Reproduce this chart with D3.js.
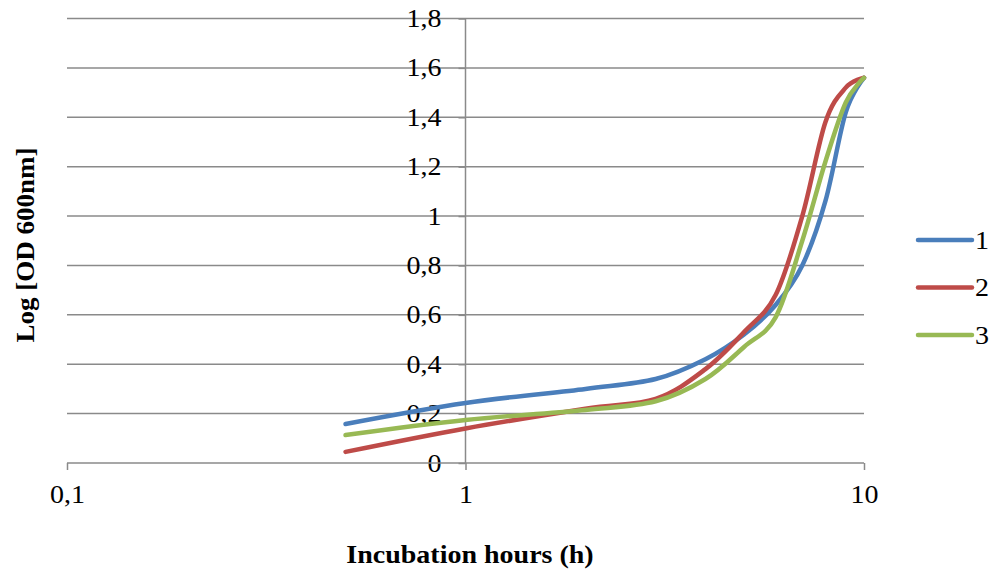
<!DOCTYPE html>
<html>
<head>
<meta charset="utf-8">
<script src="https://cdn.jsdelivr.net/npm/d3@7"></script>
<style>
  body { margin: 0; background: #fff; }
  svg { font-family: "Liberation Serif", "Times New Roman", serif; }
</style>
</head>
<body>
<svg id="chart" width="990" height="569"></svg>
<script>
// data
var hours   = [0.5, 1, 2, 3, 4, 5, 6, 7, 8, 9, 10];
var series1 = [0.158, 0.243, 0.30, 0.34, 0.42, 0.52, 0.64, 0.80, 1.06, 1.42, 1.56];
var series2 = [0.045, 0.14, 0.22, 0.26, 0.38, 0.53, 0.68, 1.00, 1.38, 1.52, 1.56];
var series3 = [0.113, 0.174, 0.215, 0.25, 0.34, 0.47, 0.59, 0.90, 1.22, 1.46, 1.56];
var seriesNames = ["1", "2", "3"];
var xTicks = [0.1, 1, 10];
var yTicks = [0, 0.2, 0.4, 0.6, 0.8, 1, 1.2, 1.4, 1.6, 1.8];

var colors = ["#4a7ebb", "#be4b48", "#98b954"];
var allSeries = [series1, series2, series3];

var svg = d3.select("#chart");

// the original picture is a little wider than tall, so text is stretched
var stretch = 1.12;
var fontSize = "25px";

// comma decimals
var loc = d3.formatLocale({decimal: ",", thousands: ".", grouping: [3], currency: ["", ""]});
var fmt = loc.format("~g");

//scales
var x = d3.scaleLog()
    .domain([0.1, 10])
    .range([67, 864]);

var y = d3.scaleLinear()
    .domain([0, 1.8])
    .range([463, 18.5]);

var gridColor = "#8a8a8a";

//horizontal gridlines
svg.append("g")
    .selectAll("line")
    .data(yTicks.filter(function(d){ return d > 0; }))
    .enter()
    .append("line")
    .attr("x1", x(0.1))
    .attr("x2", x(10))
    .attr("y1", function(d){ return y(d); })
    .attr("y2", function(d){ return y(d); })
    .attr("stroke", gridColor)
    .attr("stroke-width", 1.5);

//y axis sits at x = 1
var yAxis = d3.axisLeft(y)
    .tickValues(yTicks)
    .tickFormat(fmt)
    .tickSize(7)
    .tickPadding(17);

var gy = svg.append("g")
    .attr("transform", "translate(" + x(1) + ",0)")
    .call(yAxis);

//x axis at y = 0
var xAxis = d3.axisBottom(x)
    .tickValues(xTicks)
    .tickFormat(fmt)
    .tickSize(7)
    .tickPadding(15);

var gx = svg.append("g")
    .attr("transform", "translate(0," + y(0) + ")")
    .call(xAxis);

[gx, gy].forEach(function(g){
  g.select(".domain").attr("stroke", gridColor).attr("stroke-width", 1.5);
  g.selectAll(".tick line").attr("stroke", gridColor).attr("stroke-width", 1.5);
  g.selectAll(".tick text")
    .attr("fill", "#000")
    .style("font-family", "'Liberation Serif', 'Times New Roman', serif")
    .style("font-size", fontSize)
    .attr("x", function(){ return +d3.select(this).attr("x") / stretch; })
    .attr("transform", "scale(" + stretch + ",1)");
});
gx.select(".domain").attr("d", "M" + x(0.1) + ",0H" + x(10));
gy.select(".domain").attr("d", "M0," + y(1.8) + "V" + y(0));

//lines
var line = d3.line()
    .curve(d3.curveCardinal.tension(0))
    .x(function(d, i){ return x(hours[i]); })
    .y(function(d){ return y(d); });

allSeries.forEach(function(s, i){
  svg.append("path")
    .datum(s)
    .attr("fill", "none")
    .attr("stroke", colors[i])
    .attr("stroke-width", 4.5)
    .attr("stroke-linecap", "round")
    .attr("stroke-linejoin", "round")
    .attr("d", line);
});

//legend
var legend = svg.append("g")
    .selectAll("g")
    .data(seriesNames)
    .enter()
    .append("g")
    .attr("transform", function(d, i){ return "translate(918," + (240 + i * 47.5) + ")"; });

legend.append("line")
    .attr("x1", 0)
    .attr("x2", 54)
    .attr("stroke", function(d, i){ return colors[i]; })
    .attr("stroke-width", 4.5)
    .attr("stroke-linecap", "round");

legend.append("text")
    .attr("transform", "translate(57,0) scale(" + stretch + ",1)")
    .attr("dy", "0.34em")
    .style("font-size", fontSize)
    .text(function(d){ return d; });

//axis titles
svg.append("text")
    .attr("transform", "translate(470,563) scale(" + stretch + ",1)")
    .attr("text-anchor", "middle")
    .style("font-size", "25px")
    .style("font-weight", "bold")
    .text("Incubation hours (h)");

svg.append("text")
    .attr("transform", "translate(34,245) rotate(-90) scale(1.08,1)")
    .attr("text-anchor", "middle")
    .style("font-size", "25px")
    .style("font-weight", "bold")
    .text("Log [OD 600nm]");
</script>
</body>
</html>
